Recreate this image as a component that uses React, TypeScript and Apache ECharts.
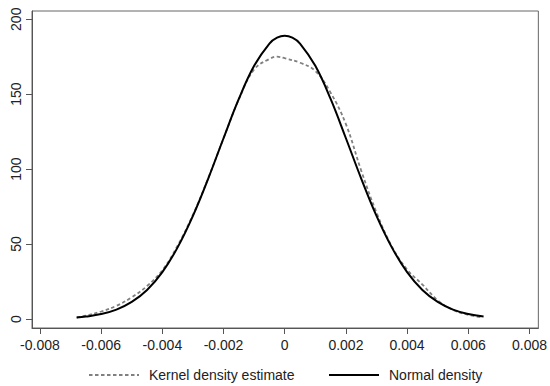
import React, { useEffect, useRef } from "react";
import * as echarts from "echarts";

const normalX = [-0.0068, -0.0065, -0.006, -0.0055, -0.005, -0.0045, -0.004, -0.0035, -0.003, -0.0025, -0.002, -0.0015, -0.001, -0.0005, -0.00025, 0, 0.00025, 0.0005, 0.001, 0.0015, 0.002, 0.0025, 0.003, 0.0035, 0.004, 0.0045, 0.005, 0.0055, 0.006, 0.0065];
const normalY = [1.0, 1.6, 3.3, 6.3, 11.4, 19.4, 31.3, 47.8, 68.8, 93.7, 120.6, 146.8, 168.9, 183.8, 187.7, 189, 187.7, 183.8, 168.9, 146.8, 120.6, 93.7, 68.8, 47.8, 31.3, 19.4, 11.4, 6.3, 3.3, 1.6];

const kernelX = [-0.0068, -0.0065, -0.006, -0.0055, -0.005, -0.0045, -0.004, -0.0035, -0.003, -0.0025, -0.002, -0.0015, -0.001, -0.0005, -0.00025, 0, 0.0005, 0.001, 0.0015, 0.002, 0.0025, 0.003, 0.0035, 0.004, 0.0045, 0.005, 0.0055, 0.006, 0.0064];
const kernelY = [1.0, 2.2, 5.0, 8.8, 14.5, 22.0, 32.5, 49.0, 69.5, 94.0, 120.5, 146.5, 166.5, 173.5, 175, 174, 171, 165.5, 151, 130, 99, 71, 48.5, 33, 23, 12.5, 6, 2.8, 1.2];

const xTicks = [-0.008, -0.006, -0.004, -0.002, 0, 0.002, 0.004, 0.006, 0.008];
const yTicks = [0, 50, 100, 150, 200];

const seriesNames = ["Kernel density estimate", "Normal density"];

const FONT = "'Liberation Sans', Arial, sans-serif";

export default function App() {
  const ref = useRef<HTMLDivElement>(null);
  useEffect(() => {
    document.body.style.margin = "0";
    if (!ref.current) return;
    const chart = echarts.init(ref.current, undefined, { renderer: "svg" });
    const axisColor = "#555";
    const legendBase = {
      top: 363,
      itemWidth: 50,
      itemHeight: 14,
      itemStyle: { opacity: 0 },
      selectedMode: false,
      textStyle: { fontFamily: FONT, fontSize: 14, color: "#222", padding: [0, 0, 0, 5] },
    };
    chart.setOption({
      animation: false,
      backgroundColor: "#fff",
      grid: {
        left: 32,
        right: 11,
        top: 11,
        bottom: 58,
        show: true,
        borderColor: "#666",
        borderWidth: 1,
        containLabel: false,
      },
      legend: [
        { ...legendBase, left: 83, data: [seriesNames[0]] },
        { ...legendBase, left: 323, data: [seriesNames[1]] },
      ],
      xAxis: {
        type: "value",
        min: -0.00826,
        max: 0.00829,
        axisLine: { show: true, onZero: false, lineStyle: { color: axisColor, width: 1 } },
        axisTick: { show: true, length: 6, customValues: xTicks, lineStyle: { color: axisColor } },
        axisLabel: {
          customValues: xTicks,
          margin: 10,
          fontFamily: FONT,
          fontSize: 14,
          color: "#222",
          formatter: (v: number) => (Math.abs(v) < 1e-12 ? "0" : v.toFixed(3)),
        },
        splitLine: { show: false },
      },
      yAxis: {
        type: "value",
        min: -6,
        max: 205.5,
        axisLine: { show: true, onZero: false, lineStyle: { color: axisColor, width: 1 } },
        axisTick: { show: true, length: 6, customValues: yTicks, lineStyle: { color: axisColor } },
        axisLabel: {
          customValues: yTicks,
          rotate: 90,
          margin: 9,
          fontFamily: FONT,
          fontSize: 14,
          color: "#222",
        },
        splitLine: { show: false },
      },
      series: [
        {
          name: seriesNames[0],
          type: "line",
          data: kernelX.map((x, i) => [x, kernelY[i]]),
          smooth: 0.4,
          symbol: "none",
          showSymbol: false,
          lineStyle: { color: "#808080", width: 1.8, type: [3.5, 2.5] },
          itemStyle: { color: "#808080" },
          z: 2,
        },
        {
          name: seriesNames[1],
          type: "line",
          data: normalX.map((x, i) => [x, normalY[i]]),
          smooth: 0.4,
          symbol: "none",
          showSymbol: false,
          lineStyle: { color: "#000", width: 2 },
          itemStyle: { color: "#000" },
          z: 3,
        },
      ],
    });
    return () => chart.dispose();
  }, []);
  return <div ref={ref} style={{ width: 550, height: 386 }} />;
}
